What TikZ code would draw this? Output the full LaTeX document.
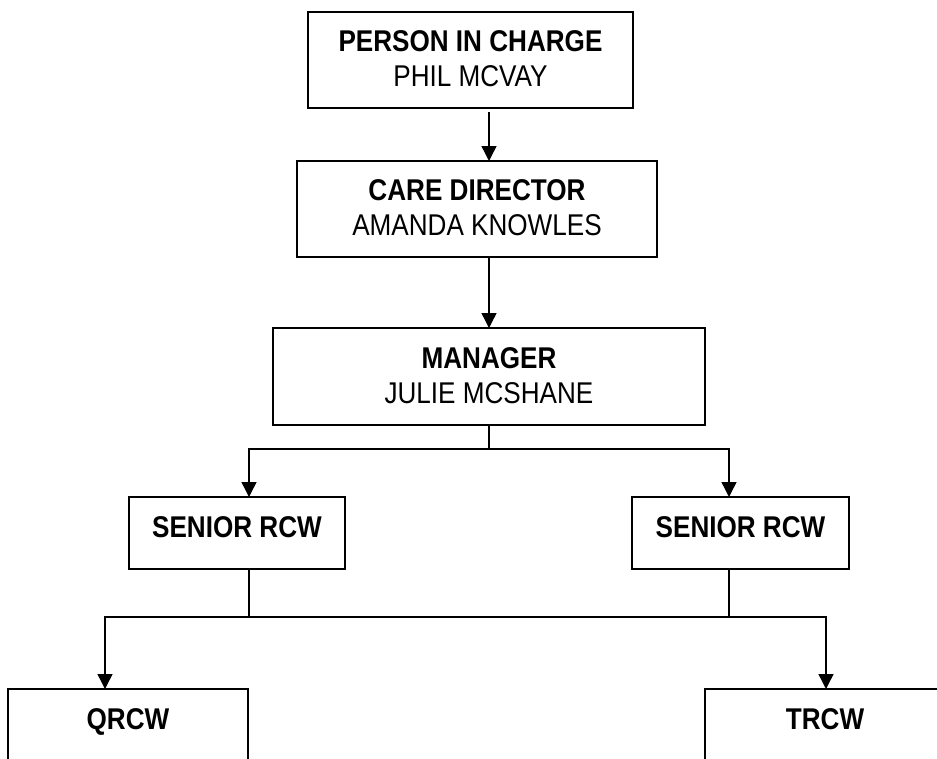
\documentclass[tikz,border=0pt]{standalone}
\usepackage{fontspec}
\setmainfont{Liberation Sans}[FakeStretch=0.87]
\usetikzlibrary{arrows.meta}
\begin{document}
\begin{tikzpicture}[x=1pt,y=-1pt,
  box/.style={draw=black,line width=1.8pt,inner sep=0pt,outer sep=0pt,fill=white},
  txt/.style={inner sep=0pt,outer sep=0pt,align=center,font=\fontsize{30}{35}\selectfont},
  conn/.style={draw=black,line width=1.4pt},
  arr/.style={conn,-{Triangle[width=15pt,length=15pt]}}]
\useasboundingbox (0,0) rectangle (937,758);
\clip (0,0) rectangle (937,758);
\fill[white] (0,0) rectangle (937,758);
% boxes
\node[box,minimum width=325pt,minimum height=96pt] (b1) at (470.5,60) {};
\node[box,minimum width=360pt,minimum height=96pt] (b2) at (477,209) {};
\node[box,minimum width=432pt,minimum height=97pt] (b3) at (489,376.5) {};
\node[box,minimum width=216pt,minimum height=72pt] (s1) at (237,533) {};
\node[box,minimum width=217pt,minimum height=72pt] (s2) at (740.5,533) {};
\node[box,minimum width=240pt,minimum height=100pt] (q) at (128,739) {};
\node[box,minimum width=240pt,minimum height=100pt] (t) at (825,739) {};
% texts
\node[txt] (b1t) at (470.5,58.5) {\textbf{PERSON IN CHARGE}\\PHIL MCVAY};
\node[txt] (b2t) at (477,207.5) {\textbf{CARE DIRECTOR}\\AMANDA KNOWLES};
\node[txt] (b3t) at (489,375.5) {\textbf{MANAGER}\\JULIE MCSHANE};
\node[txt,anchor=base] (s1t) at (237,537) {\textbf{SENIOR RCW}};
\node[txt,anchor=base] (s2t) at (740.5,537) {\textbf{SENIOR RCW}};
\node[txt,anchor=base] (qt) at (128,729) {\textbf{QRCW}};
\node[txt,anchor=base] (tt) at (825,729) {\textbf{TRCW}};
% connector coordinates
\coordinate (sp) at (489,0);
\coordinate (j1) at (489,449);
\coordinate (hl) at (249,449);
\coordinate (hr) at (729,449);
\coordinate (k1) at (249,617);
\coordinate (k2) at (729,617);
\coordinate (qa) at (105,617);
\coordinate (ta) at (826,617);
% connectors
\draw[arr] ([yshift=-4pt]b1.south -| sp) -- (b2.north -| sp);
\draw[arr] (b2.south -| sp) -- (b3.north -| sp);
\draw[conn] (b3.south -| j1) -- (j1);
\draw[arr] (j1) -- (hl) -- (hl |- s1.north);
\draw[arr] (j1) -- (hr) -- (hr |- s2.north);
\draw[conn] (s1.south -| k1) -- (k1);
\draw[conn] (s2.south -| k2) -- (k2);
\draw[arr] (k1) -- (qa) -- (qa |- q.north);
\draw[arr] (k1) -- (ta) -- (ta |- t.north);
\end{tikzpicture}
\end{document}
